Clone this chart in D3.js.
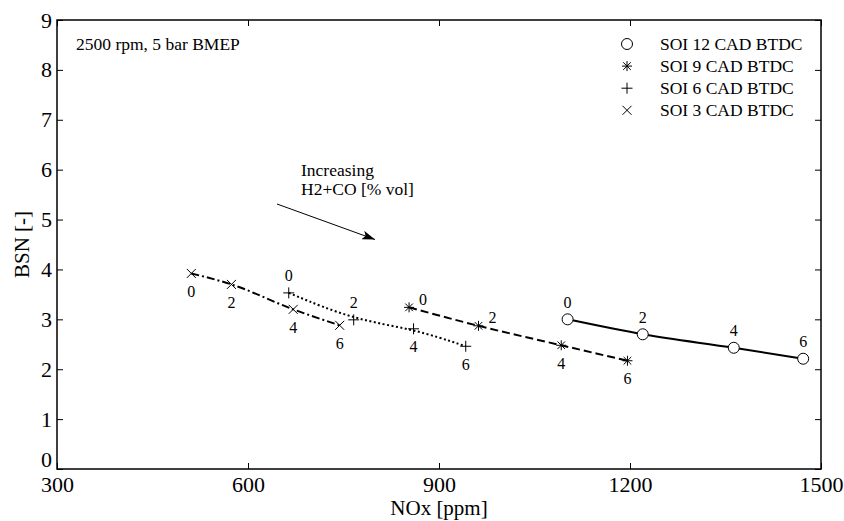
<!DOCTYPE html>
<html><head><meta charset="utf-8">
<script src="https://cdn.jsdelivr.net/npm/d3@7"></script>
<style>
body{margin:0;background:#fff;}
svg{display:block;font-family:"Liberation Serif","Times New Roman",serif;}
</style></head>
<body><svg id="chart" width="844" height="521"></svg>
<script>
// ---- data ----
const h2coLabels = ["0", "2", "4", "6"];
const seriesNames = ["SOI 12 CAD BTDC", "SOI 9 CAD BTDC", "SOI 6 CAD BTDC", "SOI 3 CAD BTDC"];
const soi12NOx = [1102, 1220, 1363, 1472];
const soi12BSN = [3.00, 2.70, 2.43, 2.21];
const soi9NOx  = [853, 962, 1092, 1196];
const soi9BSN  = [3.24, 2.87, 2.48, 2.17];
const soi6NOx  = [664, 766, 860, 942];
const soi6BSN  = [3.53, 2.99, 2.81, 2.46];
const soi3NOx  = [511, 574, 671, 744];
const soi3BSN  = [3.92, 3.70, 3.20, 2.88];
const xTicks = [300, 600, 900, 1200, 1500];
const yTicks = [0, 1, 2, 3, 4, 5, 6, 7, 8, 9];

// label placement per point (layout)
const labelPlace = {
  "SOI 12 CAD BTDC": ["above", "above", "above", "above"],
  "SOI 9 CAD BTDC":  ["right", "right", "below", "below"],
  "SOI 6 CAD BTDC":  ["above", "above", "below", "below"],
  "SOI 3 CAD BTDC":  ["below", "below", "below", "below"]
};
const styles = {
  "SOI 12 CAD BTDC": {marker: "circle", dash: null, curve: d3.curveMonotoneX},
  "SOI 9 CAD BTDC":  {marker: "star", dash: "8,4", curve: d3.curveMonotoneX},
  "SOI 6 CAD BTDC":  {marker: "plus", dash: "2,2.5", curve: d3.curveBasis},
  "SOI 3 CAD BTDC":  {marker: "cross", dash: "8,3,2,3", curve: d3.curveMonotoneX}
};

const series = [
  {name: seriesNames[0], x: soi12NOx, y: soi12BSN},
  {name: seriesNames[1], x: soi9NOx, y: soi9BSN},
  {name: seriesNames[2], x: soi6NOx, y: soi6BSN},
  {name: seriesNames[3], x: soi3NOx, y: soi3BSN}
];

// ---- layout ----
const L = 57, R = 821, T = 20, B = 469;
const svg = d3.select("#chart");
const x = d3.scaleLinear().domain([300, 1500]).range([L, R]);
const y = d3.scaleLinear().domain([0, 9]).range([B, T]);

// axes
const tickLen = 6;
const gx = svg.append("g").attr("transform", `translate(0,${B})`)
  .call(d3.axisBottom(x).tickValues(xTicks).tickSizeInner(-tickLen).tickSizeOuter(0).tickPadding(8).tickFormat(d3.format("d")));
const gxt = svg.append("g").attr("transform", `translate(0,${T})`)
  .call(d3.axisTop(x).tickValues(xTicks).tickSizeInner(-tickLen).tickSizeOuter(0).tickFormat(""));
const gy = svg.append("g").attr("transform", `translate(${L},0)`)
  .call(d3.axisLeft(y).tickValues(yTicks).tickSizeInner(-tickLen).tickSizeOuter(0).tickPadding(5).tickFormat(d3.format("d")));
const gyr = svg.append("g").attr("transform", `translate(${R},0)`)
  .call(d3.axisRight(y).tickValues(yTicks).tickSizeInner(-tickLen).tickSizeOuter(0).tickFormat(""));
[gx, gxt, gy, gyr].forEach(g => {
  g.select(".domain").remove();
  g.selectAll(".tick line").attr("stroke", "#000").attr("stroke-width", 1);
  g.selectAll(".tick text").attr("fill", "#000").attr("font-size", 22)
    .attr("font-family", "Liberation Serif, Times New Roman, serif");
});
gx.selectAll(".tick text").attr("dy", "0.66em");
gy.selectAll(".tick text").filter(d => d === 0).attr("dy", "-0.1em");
// box
svg.append("rect").attr("x", L).attr("y", T).attr("width", R - L).attr("height", B - T)
  .attr("fill", "none").attr("stroke", "#000").attr("stroke-width", 1.5);

// axis labels
svg.append("text").attr("x", (L + R) / 2).attr("y", 515).attr("text-anchor", "middle")
  .attr("font-size", 21).text("NOx [ppm]");
svg.append("text").attr("transform", `translate(29,${(T + B) / 2}) rotate(-90)`)
  .attr("text-anchor", "middle").attr("font-size", 21).text("BSN [-]");

// lines
series.forEach(s => {
  const pts = s.x.map((v, i) => [x(v), y(s.y[i])]);
  const line = d3.line().curve(styles[s.name].curve);
  const p = svg.append("path").attr("d", line(pts)).attr("fill", "none")
    .attr("stroke", "#000").attr("stroke-width", 2);
  if (styles[s.name].dash) p.attr("stroke-dasharray", styles[s.name].dash);
});

// markers
function drawMarker(g, type, cx, cy) {
  const m = g.append("g").attr("transform", `translate(${cx},${cy})`)
    .attr("stroke", "#000").attr("stroke-width", 1).attr("fill", "none");
  if (type === "circle") {
    m.append("circle").attr("r", 5.5).attr("fill", "#fff");
  } else if (type === "plus") {
    m.append("path").attr("d", "M-5.5,0H5.5M0,-5.5V5.5");
  } else if (type === "cross") {
    m.append("path").attr("d", "M-4.5,-4.5L4.5,4.5M-4.5,4.5L4.5,-4.5");
  } else if (type === "star") {
    m.append("path").attr("d", "M-5,0H5M0,-5V5M-3.8,-3.8L3.8,3.8M-3.8,3.8L3.8,-3.8");
  }
}
const gm = svg.append("g");
series.forEach(s => {
  s.x.forEach((v, i) => drawMarker(gm, styles[s.name].marker, x(v), y(s.y[i])));
});

// point labels
series.forEach(s => {
  s.x.forEach((v, i) => {
    const place = labelPlace[s.name][i];
    let dx = 0, dy = 0;
    if (place === "above") dy = -17;
    if (place === "below") dy = 18;
    if (place === "right") { dx = 14; dy = -8; }
    svg.append("text").attr("x", x(v) + dx).attr("y", y(s.y[i]) + dy)
      .attr("text-anchor", "middle").attr("dominant-baseline", "central")
      .attr("font-size", 16).text(h2coLabels[i]);
  });
});

// legend
seriesNames.forEach((n, i) => {
  const ly = 44 + i * 22.1;
  drawMarker(svg, styles[n].marker, 627, ly);
  svg.append("text").attr("x", 660).attr("y", ly).attr("dominant-baseline", "central")
    .attr("font-size", 17.5).text(n);
});

// annotations
svg.append("text").attr("x", 76).attr("y", 50).attr("font-size", 17.5).text("2500 rpm, 5 bar BMEP");
svg.append("text").attr("x", 301).attr("y", 176).attr("font-size", 17.5).text("Increasing");
svg.append("text").attr("x", 301).attr("y", 195).attr("font-size", 17.5).text("H2+CO [% vol]");
svg.append("defs").append("marker").attr("id", "arrow").attr("viewBox", "0 0 13 9")
  .attr("refX", 13).attr("refY", 4.5).attr("markerWidth", 13).attr("markerHeight", 9)
  .attr("markerUnits", "userSpaceOnUse").attr("orient", "auto")
  .append("path").attr("d", "M0,0L13,4.5L0,9L3,4.5Z").attr("fill", "#000");
svg.append("line").attr("x1", 277).attr("y1", 204).attr("x2", 375).attr("y2", 239.5)
  .attr("stroke", "#000").attr("stroke-width", 1).attr("marker-end", "url(#arrow)");
</script></body></html>
